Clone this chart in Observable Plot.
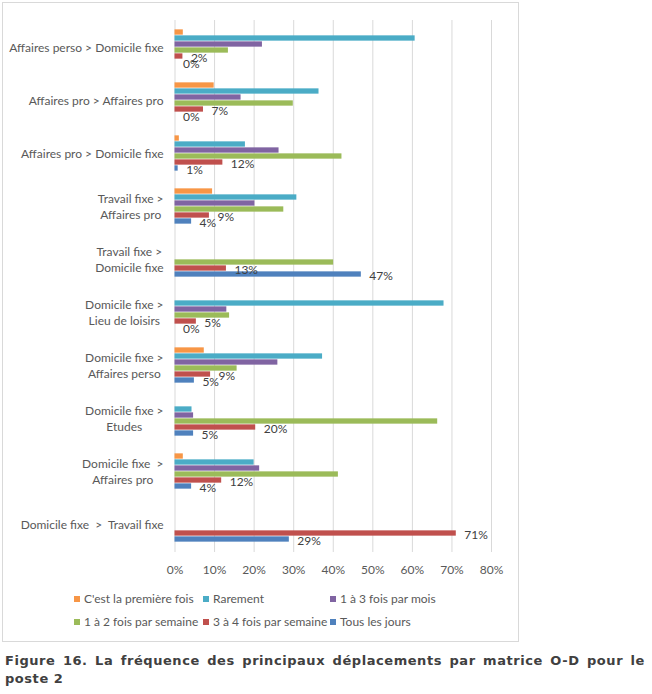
<!DOCTYPE html>
<html>
<head>
<meta charset="utf-8">
<script src="https://cdn.jsdelivr.net/npm/d3@7"></script>
<script src="https://cdn.jsdelivr.net/npm/@observablehq/plot@0.6"></script>
<style>
  html, body { margin: 0; padding: 0; background: #fff; }
  body { width: 652px; height: 694px; position: relative; overflow: hidden; }
  #box { position: absolute; left: 2px; top: 2px; width: 515px; height: 638px; border: 1px solid #d9d9d9; }
  #chart { position: absolute; left: 0; top: 0; }
  .leg { position: absolute; font: 12px Lato, sans-serif; color: #595959; white-space: nowrap; line-height: 14px; }
  .leg i { display: inline-block; width: 6px; height: 6px; margin-right: 4px; vertical-align: 1px; }
  #caption { position: absolute; left: 5px; top: 652px; width: 640px; font: bold 13px "DejaVu Sans", Verdana, sans-serif;
    letter-spacing: 0.55px; line-height: 18px; color: #404040; text-align: justify; text-align-last: left; }
</style>
</head>
<body>
<div id="box"><div id="chart"></div></div>
<div id="caption">Figure 16. La fréquence des principaux déplacements par matrice O-D pour le poste 2</div>
<script>
// ---- data ----
const categories = [
  "Affaires perso > Domicile fixe",
  "Affaires pro > Affaires pro",
  "Affaires pro > Domicile fixe",
  "Travail fixe > Affaires pro",
  "Travail fixe > Domicile fixe",
  "Domicile fixe > Lieu de loisirs",
  "Domicile fixe > Affaires perso",
  "Domicile fixe > Etudes",
  "Domicile fixe  > Affaires pro",
  "Domicile fixe  >  Travail fixe"
];
const categoryLabels = [
  "Affaires perso > Domicile fixe",
  "Affaires pro > Affaires pro",
  "Affaires pro > Domicile fixe",
  "Travail fixe >\nAffaires pro",
  "Travail fixe >\nDomicile fixe",
  "Domicile fixe >\nLieu de loisirs",
  "Domicile fixe >\nAffaires perso",
  "Domicile fixe >\nEtudes",
  "Domicile fixe \u00a0>\nAffaires pro",
  "Domicile fixe \u00a0> \u00a0Travail fixe"
];
const series = ["C'est la première fois", "Rarement", "1 à 3 fois par mois",
                "1 à 2 fois par semaine", "3 à 4 fois par semaine", "Tous les jours"];
const seriesColors = ["#F79646", "#4BACC6", "#8064A2", "#9BBB59", "#C0504D", "#4F81BD"];

const premiereFois       = [2.1, 9.9, 1.1, 9.5, 0, 0, 7.4, 0, 2.1, 0];
const rarement           = [60.7, 36.4, 17.8, 30.8, 0, 68.0, 37.3, 4.3, 20.0, 0];
const unATroisParMois    = [22.1, 16.7, 26.3, 20.2, 0, 13.1, 26.0, 4.7, 21.4, 0];
const unADeuxParSemaine  = [13.5, 29.9, 42.2, 27.5, 40.1, 13.8, 15.7, 66.4, 41.3, 0];
const troisAQuatreParSem = [2.0, 7.2, 12.1, 8.7, 13.0, 5.4, 9.0, 20.4, 11.8, 71.1];
const tousLesJours       = [0, 0, 0.8, 4.2, 47.1, 0, 4.9, 4.7, 4.2, 28.9];
const seriesValues = [premiereFois, rarement, unATroisParMois, unADeuxParSemaine, troisAQuatreParSem, tousLesJours];
const labelledSeries = ["3 à 4 fois par semaine", "Tous les jours"];

const xTicks = [0, 10, 20, 30, 40, 50, 60, 70, 80];
const xTickLabels = ["0%", "10%", "20%", "30%", "40%", "50%", "60%", "70%", "80%"];

// ---- table ----
const rows = [];
categories.forEach((c, i) => series.forEach((s, j) => rows.push({category: c, series: s, value: seriesValues[j][i]})));
const labelRows = rows.filter(r => labelledSeries.includes(r.series));

// text measurement for centered multi-line category labels
const ctx = document.createElement("canvas").getContext("2d");
ctx.font = "12px Lato";
const labelMarks = categories.map((c, i) => {
  const lines = categoryLabels[i].split("\n");
  const w = Math.max(...lines.map(l => ctx.measureText(l).width));
  const multi = lines.length > 1;
  return Plot.text([c], {
    fy: d => d,
    text: () => categoryLabels[i],
    frameAnchor: "left",
    textAnchor: multi ? "middle" : "end",
    dx: multi ? -11.5 - w / 2 : -11.5,
    lineHeight: 16 / 12,
    fill: "#595959"
  });
});

const chart = Plot.plot({
  width: 515,
  height: 580,
  marginTop: 14,
  marginBottom: 30,
  marginLeft: 171.5,
  marginRight: 27,
  style: {fontFamily: "Lato, sans-serif", fontSize: "12px", color: "#595959", background: "transparent"},
  x: {domain: [0, 80], label: null},
  y: {domain: series, axis: null, paddingInner: 0, paddingOuter: 1.02},
  fy: {domain: categories, axis: null, padding: 0, label: null},
  color: {domain: series, range: seriesColors},
  marks: [
    Plot.gridX(xTicks, {stroke: "#d9d9d9", strokeOpacity: 1}),
    Plot.axisX(xTicks, {tickSize: 2, tickPadding: 13, stroke: "#d9d9d9", fill: "#595959", label: null,
      tickFormat: d => xTickLabels[xTicks.indexOf(d)]}),
    Plot.barX(rows, {fy: "category", y: "series", x: "value", fill: "series", insetTop: 0.35, insetBottom: 0.35}),
    Plot.text(labelRows, {fy: "category", y: "series", x: "value", text: d => Math.round(d.value) + "%",
      textAnchor: "start", dx: 8, dy: 1.5, fill: "#404040"}),
    ...labelMarks
  ]
});
document.getElementById("chart").appendChild(chart);

// ---- legend ----
const legendPos = [[71, 596], [200, 596], [327, 596], [71, 618.5], [200, 618.5], [327, 618.5]];
const box = document.getElementById("box");
series.forEach((s, j) => {
  const el = document.createElement("div");
  el.className = "leg";
  el.style.left = legendPos[j][0] + "px";
  el.style.top = (legendPos[j][1] - 7) + "px";
  el.innerHTML = `<i style="background:${seriesColors[j]}"></i>`;
  el.appendChild(document.createTextNode(s));
  box.appendChild(el);
});
</script>
</body>
</html>
